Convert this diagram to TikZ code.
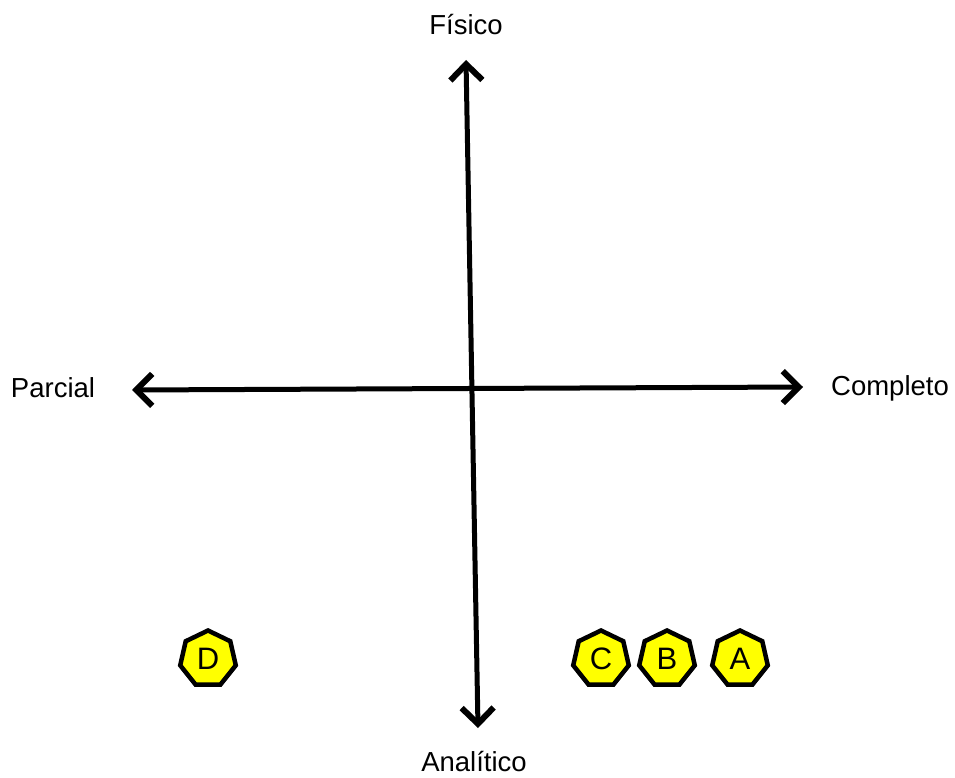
\documentclass[tikz,border=0pt]{standalone}
\usepackage{fontspec}
\setmainfont{Liberation Sans}
\usetikzlibrary{arrows.meta, shapes.geometric}
\definecolor{inkyellow}{HTML}{FFFF00}
\definecolor{inktext}{HTML}{000000}
\newcommand{\heptnode}[3]{%
  \node[draw=black, line width=4.5pt, fill=inkyellow, regular polygon,
        regular polygon sides=7, minimum size=57pt, inner sep=0pt,
        text=inktext, font=\fontsize{31}{34}\selectfont] (#1) at (#2,659) {#3};}

\begin{document}
\begin{tikzpicture}[x=1pt, y=-1pt, font=\fontsize{27.5}{32}\selectfont]
      \useasboundingbox (0,0) rectangle (955,778);
      % axis labels
      \node (fis) at (466,25) {Físico};
      \node (ana) at (474,762) {Analítico};
      \node (par) at (53,388) {Parcial};
      \node (com) at (890,388) {Completo};
      % axis ends
      \coordinate (top) at (466,60);
      \coordinate (bot) at (478,728);
      \coordinate (lft) at (132,390);
      \coordinate (rgt) at (803,387);
      \draw[{Straight Barb[length=16pt, width=32pt, line width=6pt]}-{Straight Barb[length=16pt, width=32pt, line width=6pt]},
            line width=5pt, line cap=round, line join=round] (top) -- (bot);
      \draw[{Straight Barb[length=16pt, width=32pt, line width=6pt]}-{Straight Barb[length=16pt, width=32pt, line width=6pt]},
            line width=5pt, line cap=round, line join=round] (lft) -- (rgt);
      % items
      \heptnode{d}{208}{D}
      \heptnode{c}{601}{C}
      \heptnode{b}{667}{B}
      \heptnode{a}{740}{A}
    \end{tikzpicture}
\end{document}
